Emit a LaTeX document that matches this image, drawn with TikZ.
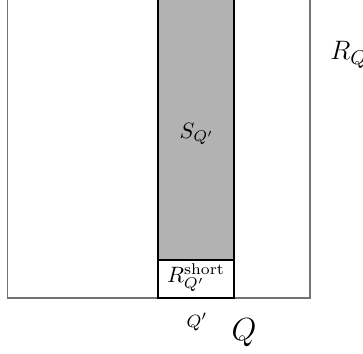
\documentclass[tikz,border=0pt]{standalone}
\begin{document}
\begin{tikzpicture}[x=0.45pt,y=-0.45pt,
  outer/.style={draw=black!55,line width=0.8pt},
  strip/.style={draw=black,fill=black!30,line width=0.55pt},
  shortbox/.style={draw=black,fill=white,line width=0.55pt},
  lbl/.style={inner sep=0pt}]
\useasboundingbox (0,0) rectangle (363,353);
\begin{scope}
\clip (0,0) rectangle (363,353);
\draw[outer] (7.5,-20) -- (7.5,298) -- (310,298) -- (310,-20);
\draw[strip] (158,-20) rectangle (234,260);
\draw[shortbox] (158,260) rectangle (234,298);
\draw[line width=1.1pt] (158,298) -- (234,298);
\node[lbl] (s) at (197,134) {$S_{Q'}$};
\node[lbl] (rs) at (196,278) {$R^{\mathrm{short}}_{Q'}$};
\node[lbl,font=\footnotesize] (qp) at (197,322) {$Q'$};
\node[lbl,font=\Large] (q) at (244,333) {$Q$};
\node[lbl,font={\fontsize{13}{15}\selectfont},anchor=west] (rq) at (330,55) {$R_Q$};
\end{scope}
\end{tikzpicture}
\end{document}
